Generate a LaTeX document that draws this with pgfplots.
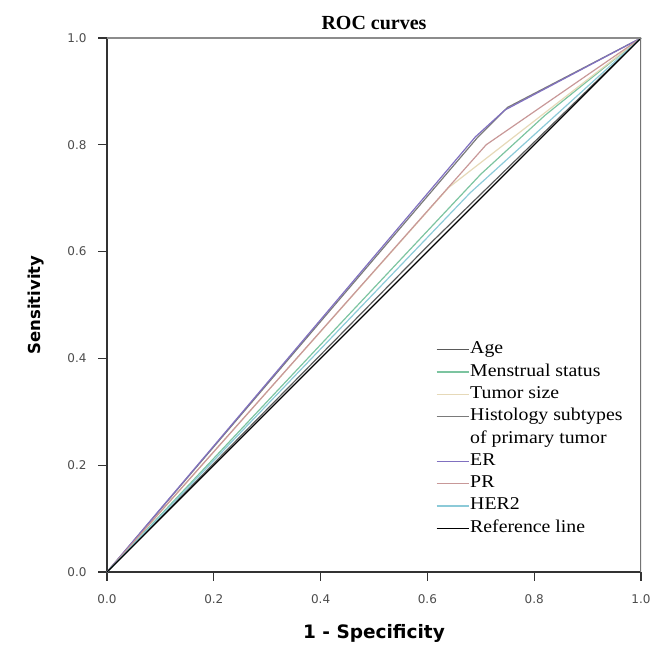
\documentclass[border=0pt]{standalone}
\usepackage{fontspec}
\setmainfont{Liberation Serif}
\newfontfamily\legfont[FakeStretch=1.1]{Liberation Serif}
\newfontfamily\labelfont{DejaVu Sans}
\usepackage{pgfplots}
\pgfplotsset{compat=1.18}

\definecolor{cAge}{HTML}{5A5A5A}
\definecolor{cMen}{HTML}{7CC4A0}
\definecolor{cTum}{HTML}{E6D9B8}
\definecolor{cHis}{HTML}{7A7A7A}
\definecolor{cER}{HTML}{8070C0}
\definecolor{cPR}{HTML}{C89898}
\definecolor{cHER}{HTML}{8CCAD8}

\begin{document}
\begin{tikzpicture}
\begin{axis}[
    name=ax,
    scale only axis,
    width=534pt, height=534pt,
    xmin=0, xmax=1, ymin=0, ymax=1,
    axis x line*=bottom, axis y line*=left,
    axis line style={draw=black!80, line width=1.3pt},
    xtick={0,0.2,...,1.0}, ytick={0,0.2,...,1.0},
    tick align=outside, major tick length=9pt,
    tick style={black!80, line width=1.2pt},
    /pgf/number format/fixed,
    /pgf/number format/fixed zerofill,
    /pgf/number format/precision=1,
    /pgf/number format/assume math mode=true,
    ticklabel style={font=\labelfont\fontsize{12}{14}\selectfont, text=black!70},
    xticklabel style={yshift=-10pt},
    yticklabel style={xshift=-8pt},
    title={\bfseries ROC curves},
    title style={font=\fontsize{20}{22}\selectfont, yshift=-1pt},
    xlabel={\bfseries 1 - Specificity},
    ylabel={\bfseries Sensitivity},
    xlabel style={font=\labelfont\fontsize{18.5}{20}\selectfont, yshift=-14pt},
    ylabel style={font=\labelfont\fontsize{16.5}{18}\selectfont, yshift=16pt},
    legend style={draw=none, fill=none, at={(0.61,0.438)}, anchor=north west,
        font=\legfont\fontsize{18}{20}\selectfont, row sep=3.3pt,
        nodes={inner sep=1pt, text height=12.5pt, text depth=4.5pt}},
    legend cell align=left,
    legend image code/.code={\draw[#1, line width=1.3pt] (0pt,0pt) -- (32pt,0pt);},
    every axis plot/.append style={line width=1.2pt},
]
\addplot[cAge] coordinates {(0,0) (0.60,0.61) (1,1)};
\addlegendentry{Age}
\addplot[cMen] coordinates {(0,0) (0.70,0.745) (0.82,0.855) (1,1)};
\addlegendentry{Menstrual status}
\addplot[cTum] coordinates {(0,0) (0.64,0.72) (1,1)};
\addlegendentry{Tumor size}
\addplot[cHis] coordinates {(0,0) (0.695,0.815) (0.75,0.87) (1,1)};
\addlegendentry{Histology subtypes}
\addlegendimage{empty legend}
\addlegendentry{of primary tumor}
\addplot[cER] coordinates {(0,0) (0.69,0.815) (0.745,0.865) (1,1)};
\addlegendentry{ER}
\addplot[cPR] coordinates {(0,0) (0.71,0.80) (1,1)};
\addlegendentry{PR}
\addplot[cHER] coordinates {(0,0) (0.68,0.71) (1,1)};
\addlegendentry{HER2}
\addplot[black] coordinates {(0,0) (1,1)};
\addlegendentry{Reference line}
\draw[black!45, line width=1.5pt] (rel axis cs:0,1) -- (rel axis cs:1,1);
\draw[black!55, line width=1.1pt] (rel axis cs:1,0) -- (rel axis cs:1,1);
\end{axis}
\pgfresetboundingbox
\path (ax.south west) ++(-107pt,-72pt) rectangle ++(668pt,644pt);
\end{tikzpicture}
\end{document}
